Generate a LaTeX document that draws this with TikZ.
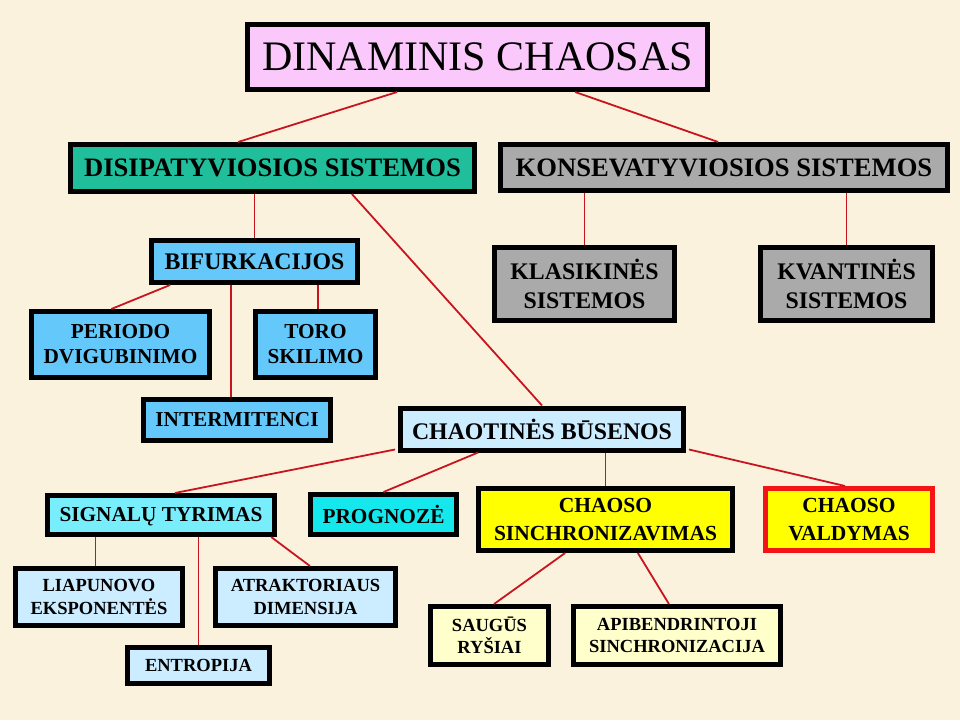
\documentclass[tikz,border=0pt]{standalone}
\usepackage{fontspec}
\setmainfont{Liberation Serif}
\usetikzlibrary{calc}
\definecolor{bgc}{RGB}{251,242,222}
\definecolor{pinkc}{RGB}{250,200,250}
\definecolor{tealc}{RGB}{32,190,155}
\definecolor{grayc}{RGB}{170,170,170}
\definecolor{bluec}{RGB}{100,200,250}
\definecolor{lbluec}{RGB}{204,236,255}
\definecolor{cyanc}{RGB}{120,238,252}
\definecolor{cyan2c}{RGB}{20,232,236}
\definecolor{yelc}{RGB}{255,255,0}
\definecolor{lyelc}{RGB}{255,255,204}
\definecolor{redc}{RGB}{245,20,20}
\definecolor{linec}{RGB}{200,20,30}
\tikzset{
  bx/.style={draw=black, line width=5pt, inner sep=0pt, align=center, text=black},
  big/.style={font=\fontsize{42}{46}\selectfont},
  lvl1/.style={font=\bfseries\fontsize{26.6}{30}\selectfont},
  lvl2/.style={font=\bfseries\fontsize{23.8}{29}\selectfont},
  lvl2b/.style={font=\bfseries\fontsize{21.3}{25}\selectfont},
  lvl2c/.style={font=\bfseries\fontsize{21.5}{28}\selectfont},
  lvl3/.style={font=\bfseries\fontsize{18.5}{22.5}\selectfont},
  conn/.style={draw=linec, line width=1.8pt}
}
\begin{document}
\begin{tikzpicture}[x=1pt,y=-1pt]
\useasboundingbox (0,0) rectangle (960,720);
\fill[bgc] (0,0) rectangle (960,720);

\node[bx,big,fill=pinkc,minimum width=460pt,minimum height=65pt] (top) at (477.5,57) {DINAMINIS CHAOSAS};
\node[bx,lvl1,fill=tealc,minimum width=404pt,minimum height=47pt] (disip) at (272.5,168) {DISIPATYVIOSIOS SISTEMOS};
\node[bx,lvl1,fill=grayc,minimum width=447pt,minimum height=46pt] (konsev) at (724,167.5) {KONSEVATYVIOSIOS SISTEMOS};

\node[bx,lvl2,fill=bluec,minimum width=206pt,minimum height=42pt] (bifurk) at (254.5,261.5) {BIFURKACIJOS};
\node[bx,lvl2b,fill=bluec,minimum width=178pt,minimum height=66pt] (periodo) at (120.5,344.5) {PERIODO\\DVIGUBINIMO};
\node[bx,lvl2b,fill=bluec,minimum width=120pt,minimum height=66pt] (toro) at (315.5,344.5) {TORO\\SKILIMO};
\node[bx,lvl2,fill=grayc,minimum width=180pt,minimum height=73pt] (klasik) at (584.5,284) {KLASIKINĖS\\SISTEMOS};
\node[bx,lvl2,fill=grayc,minimum width=172pt,minimum height=73pt] (kvant) at (846.5,284) {KVANTINĖS\\SISTEMOS};

\node[bx,lvl2b,fill=bluec,minimum width=187pt,minimum height=41pt] (interm) at (237,420) {INTERMITENCI};
\node[bx,lvl2,fill=lbluec,minimum width=283pt,minimum height=42pt] (chaot) at (542,429) {CHAOTINĖS BŪSENOS};

\node[bx,lvl2b,fill=cyanc,minimum width=227pt,minimum height=39pt] (signal) at (161,515) {\smash{SIGNALŲ} TYRIMAS};
\node[bx,lvl2b,fill=cyan2c,minimum width=146pt,minimum height=40pt] (progn) at (383.5,514.5) {PROGNOZĖ};
\node[bx,lvl2c,fill=yelc,minimum width=254pt,minimum height=62pt] (sinch) at (605.5,519.5) {CHAOSO\\SINCHRONIZAVIMAS};
\node[bx,lvl2c,draw=redc,fill=yelc,minimum width=167pt,minimum height=62pt] (vald) at (849,519.5) {CHAOSO\\VALDYMAS};

\node[bx,lvl3,fill=lbluec,minimum width=167pt,minimum height=57pt] (liap) at (99,597) {LIAPUNOVO\\EKSPONENTĖS};
\node[bx,lvl3,fill=lbluec,minimum width=180pt,minimum height=57pt] (atrak) at (305.5,597) {ATRAKTORIAUS\\DIMENSIJA};
\node[bx,lvl3,fill=lbluec,minimum width=142pt,minimum height=36pt] (entrop) at (198.5,665.5) {ENTROPIJA};
\node[bx,lvl3,fill=lyelc,minimum width=118pt,minimum height=58pt] (saug) at (489.5,635.5) {SAUGŪS\\RYŠIAI};
\node[bx,lvl3,fill=lyelc,minimum width=207pt,minimum height=58pt] (apib) at (677,635.5) {APIBENDRINTOJI\\SINCHRONIZACIJA};

% connectors
\draw[conn] ($(top.south west)!0.327!(top.south east)$) -- ($(disip.north west)!0.416!(disip.north east)$);
\draw[conn] ($(top.south west)!0.71!(top.south east)$) -- ($(konsev.north west)!0.487!(konsev.north east)$);
\draw[conn] (bifurk.north) -- (bifurk.north |- disip.south);
\draw[conn] ($(disip.south west)!0.694!(disip.south east)$) -- (chaot.north);
\draw[conn] (klasik.north) -- (klasik.north |- konsev.south);
\draw[conn] (kvant.north) -- (kvant.north |- konsev.south);
\draw[conn] ($(bifurk.south west)!0.10!(bifurk.south east)$) -- ($(periodo.north west)!0.45!(periodo.north east)$);
\coordinate (im) at ($(interm.north west)!0.47!(interm.north east)$);
\draw[conn] (im) -- (im |- bifurk.south);
\coordinate (tr) at ($(toro.north west)!0.52!(toro.north east)$);
\draw[conn] (tr) -- (tr |- bifurk.south);
\draw[conn] ($(chaot.south west)+(-3,-3)$) -- ($(signal.north west)!0.56!(signal.north east)$);
\draw[conn] ($(chaot.south west)!0.278!(chaot.south east)$) -- (progn.north);
\draw[conn] (sinch.north) -- (sinch.north |- chaot.south);
\draw[conn] ($(chaot.south east)+(3,-3)$) -- ($(vald.north west)!0.477!(vald.north east)$);
\coordinate (lp) at ($(liap.north west)!0.48!(liap.north east)$);
\draw[conn] (lp) -- (lp |- signal.south);
\draw[conn] (entrop.north) -- (entrop.north |- signal.south);
\draw[conn] ($(signal.south west)!0.975!(signal.south east)$) -- ($(atrak.north west)!0.524!(atrak.north east)$);
\draw[conn] ($(sinch.south west)!0.344!(sinch.south east)$) -- ($(saug.north west)!0.537!(saug.north east)$);
\draw[conn] ($(sinch.south west)!0.625!(sinch.south east)$) -- ($(apib.north west)!0.462!(apib.north east)$);
\end{tikzpicture}
\end{document}
